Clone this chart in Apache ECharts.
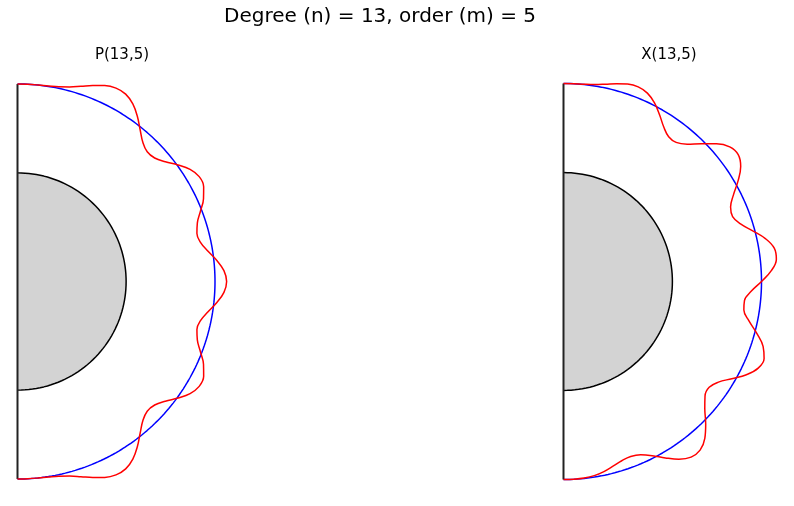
<!DOCTYPE html>
<html><head><meta charset="utf-8">
<script src="https://cdn.jsdelivr.net/npm/echarts@6/dist/echarts.min.js"></script>
<style>html,body{margin:0;padding:0;background:#fff}#c{width:794px;height:506px}</style>
</head><body><div id="c"></div>
<script>
const titleMain = 'Degree (n) = 13, order (m) = 5';
const panelTitles = ['P(13,5)', 'X(13,5)'];
// polar angle from the top (degrees), sampled along the red curves
const thetaDeg = [0,3,6,9,12,15,18,21,24,27,30,33,36,39,42,45,48,51,54,57,60,63,66,69,72,75,78,81,84,87,90,
  93,96,99,102,105,108,111,114,117,120,123,126,129,132,135,138,141,144,147,150,153,156,159,162,165,168,171,174,177,180];
// radius of the red curve, left panel P(13,5)
const rP = [1.0000,1.0000,1.0003,1.0022,1.0079,1.0200,1.0393,1.0632,1.0858,1.0989,1.0954,1.0721,1.0328,0.9871,0.9484,0.9288,0.9346,0.9633,1.0042,1.0419,1.0623,1.0579,1.0309,0.9921,0.9574,0.9405,0.9481,0.9769,1.0150,1.0467,1.0589,
  1.0467,1.0150,0.9769,0.9481,0.9405,0.9574,0.9921,1.0309,1.0579,1.0623,1.0419,1.0042,0.9633,0.9346,0.9288,0.9484,0.9871,1.0328,1.0721,1.0954,1.0989,1.0858,1.0632,1.0393,1.0200,1.0079,1.0022,1.0003,1.0000,1.0000];
// radius of the red curve, right panel X(13,5)
const rX = [1.0000,1.0001,1.0017,1.0072,1.0186,1.0341,1.0482,1.0530,1.0416,1.0124,0.9711,0.9299,0.9036,0.9038,0.9334,0.9843,1.0398,1.0803,1.0907,1.0671,1.0184,0.9634,0.9237,0.9148,0.9401,0.9893,1.0424,1.0777,1.0810,1.0510,1.0000,
  0.9490,0.9190,0.9223,0.9576,1.0107,1.0599,1.0852,1.0763,1.0366,0.9816,0.9329,0.9093,0.9197,0.9602,1.0157,1.0666,1.0962,1.0964,1.0701,1.0289,0.9876,0.9584,0.9470,0.9518,0.9659,0.9814,0.9928,0.9983,0.9999,1.0000];
const shellRadius = 1;
const coreRadius = 0.55;

function arc(r){ const out=[]; for(let a=0;a<=180;a+=1) out.push([r,a]); return out; }
function curve(rs){ return rs.map((r,i)=>[r, thetaDeg[i]]); }
const axisLine = [[shellRadius,0],[0,0],[shellRadius,180]];

const chart = echarts.init(document.getElementById('c'), null, {renderer:'canvas'});
const font = 'DejaVu Sans';
const curves = [rP, rX];
const series = [];
[0,1].forEach(p=>{
  series.push({type:'line', coordinateSystem:'polar', polarIndex:p, data:arc(coreRadius), symbol:'none', silent:true, z:1,
    lineStyle:{color:'#000', width:1.5}, areaStyle:{color:'#d3d3d3', opacity:1}});
  series.push({type:'line', coordinateSystem:'polar', polarIndex:p, data:arc(shellRadius), symbol:'none', silent:true, z:2,
    lineStyle:{color:'#0000ff', width:1.5}});
  series.push({type:'line', coordinateSystem:'polar', polarIndex:p, data:axisLine, symbol:'none', silent:true, z:3,
    lineStyle:{color:'#222', width:2}});
  series.push({type:'line', coordinateSystem:'polar', polarIndex:p, data:curve(curves[p]), symbol:'none', silent:true, z:4, smooth:0.4,
    lineStyle:{color:'#ff0000', width:1.5}});
});
const hidden = {show:false};
chart.setOption({
  animation:false,
  backgroundColor:'#fff',
  title:[
    {text:titleMain, left:380, top:7, padding:0, textAlign:'center', textStyle:{fontFamily:font, fontSize:20, fontWeight:'normal', color:'#000'}},
    {text:panelTitles[0], left:122, top:48, padding:0, textAlign:'center', textStyle:{fontFamily:font, fontSize:15, fontWeight:'normal', color:'#000'}},
    {text:panelTitles[1], left:669, top:48, padding:0, textAlign:'center', textStyle:{fontFamily:font, fontSize:15, fontWeight:'normal', color:'#000'}}
  ],
  polar:[{center:[17.5,281.5], radius:197.5*1.2},{center:[563.5,281.5], radius:198*1.2}],
  radiusAxis:[0,1].map(i=>({polarIndex:i, type:'value', min:0, max:1.2, show:false, axisLine:hidden, axisTick:hidden, axisLabel:hidden, splitLine:hidden})),
  angleAxis:[0,1].map(i=>({polarIndex:i, type:'value', min:0, max:360, startAngle:90, clockwise:true, show:false, axisLine:hidden, axisTick:hidden, axisLabel:hidden, splitLine:hidden})),
  series
});
</script></body></html>
